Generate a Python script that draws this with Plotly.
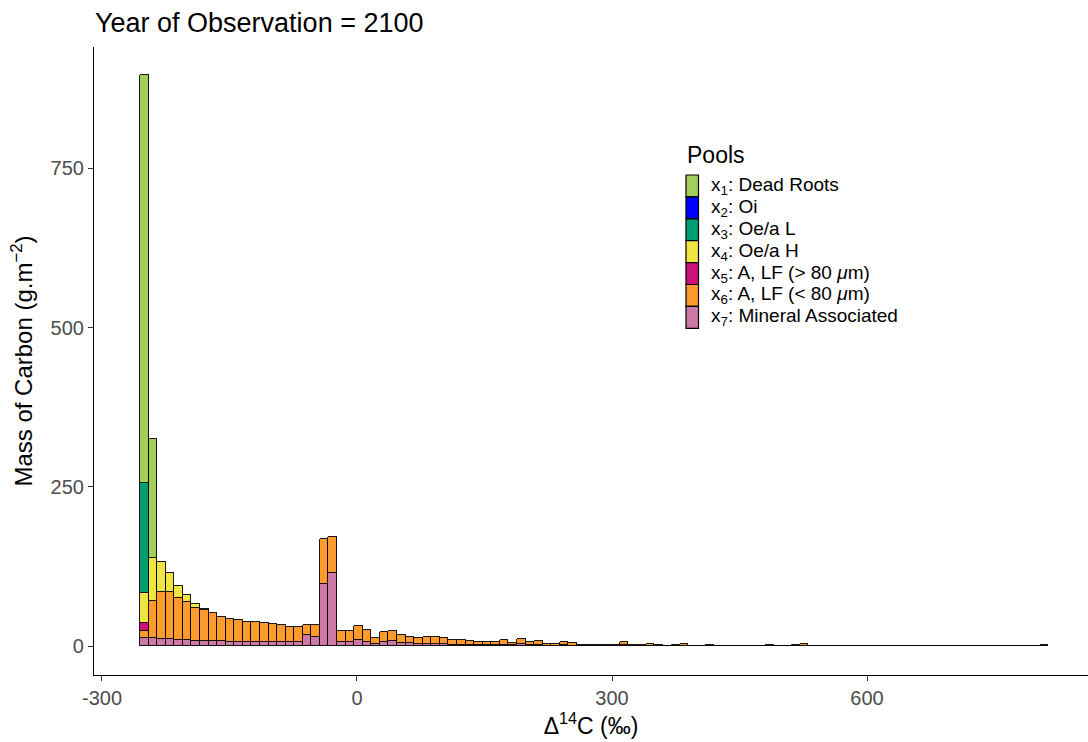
import plotly.graph_objects as go

# Bin centres (106 equal-width bins)
first_center = -250.25
bin_width = 10.08
n_bins = 106
centers = [round(first_center + bin_width * k, 2) for k in range(n_bins)]

pool_names = [
    "x<sub>1</sub>: Dead Roots",
    "x<sub>2</sub>: Oi",
    "x<sub>3</sub>: Oe/a L",
    "x<sub>4</sub>: Oe/a H",
    "x<sub>5</sub>: A, LF (&gt; 80 <i>μ</i>m)",
    "x<sub>6</sub>: A, LF (&lt; 80 <i>μ</i>m)",
    "x<sub>7</sub>: Mineral Associated",
]
pool_colors = ["#A3CE5A", "#0000FF", "#009E73", "#F0E442", "#CB1279", "#FD9A2E", "#CC79A7"]

# Mass of carbon (g m-2) per bin for each pool
x1_dead_roots = [640, 187]
x2_oi = [0]
x3_oea_l = [172]
x4_oea_h = [46, 67.4, 47, 29, 18, 11, 6, 2]
x5_a_lf_gt80 = [12.5]
x6_a_lf_lt80 = [
    12.5, 57.5, 74, 74, 66, 60, 52, 48, 44, 38.5,
    35.5, 34, 31.4, 31.4, 29, 27.5, 26.5, 24, 24, 15.5,
    18.5, 70, 55.5, 18, 17, 22.5, 18, 9.5, 15.5, 16.5,
    12, 10, 8.5, 10.1, 10.1, 8.5, 7.5, 7.5, 6.5, 4.3,
    4.3, 5.3, 6.9, 3.9, 8.4, 5.3, 5.8, 2.9, 2.5, 5.3,
    3.3, 1.8, 1.4, 1.4, 1.7, 1.4, 5.3, 1.7, 2.1, 2.8,
    1.4, 1.0, 1.4, 3.0, 1.0, 0.8, 1.3, 0.7, 0.6, 0.7,
    1.0, 0.7, 0.8, 1.3, 0.6, 1.0, 1.4, 3.0, 1.0, 0.7,
    0.4, 0.3, 0.7, 0.8, 0.4, 0.7, 0.3, 0.7, 0.8, 0.6,
    0.7, 0.4, 0.8, 0.6, 0.3, 0.5, 0.3, 0.6, 0.7, 0.4,
    0.3, 0.3, 0.6, 0.8, 0.6, 1.4,
]
x7_mineral = [
    12.5, 14, 12, 12, 10, 10, 9, 9, 8, 8,
    7.5, 7.3, 7.3, 7.3, 7, 7, 7, 7, 7, 18,
    15, 98, 115.5, 7, 6.5, 9.5, 7.5, 4, 7, 8,
    6, 5, 4, 4.5, 4.5, 4, 3, 3, 2.5, 2,
    2, 2, 2.5, 1.8, 3.6, 2, 2, 1.3, 1.1, 2,
    1.4, 0.8, 0.6, 0.6, 0.8, 0.6, 2, 0.8, 0.9, 1.2,
    0.6, 0.5, 0.6, 1.2, 0.5, 0.4, 0.5, 0.3, 0.2, 0.3,
    0.5, 0.3, 0.4, 0.5, 0.2, 0.5, 0.6, 1.2, 0.5, 0.3,
    0.2, 0.2, 0.3, 0.4, 0.2, 0.3, 0.2, 0.3, 0.4, 0.2,
    0.3, 0.2, 0.4, 0.2, 0.2, 0.2, 0.2, 0.2, 0.3, 0.2,
    0.2, 0.2, 0.2, 0.4, 0.2, 0.6,
]

pools = [x1_dead_roots, x2_oi, x3_oea_l, x4_oea_h, x5_a_lf_gt80, x6_a_lf_lt80, x7_mineral]

W, H = 1088, 742
ML, MR, MT, MB = 94, 0, 47, 67
PW, PH = W - ML - MR, H - MT - MB


def px_x(px):
    return (px - ML) / PW


def px_y(py):
    return (H - MB - py) / PH


fig = go.Figure()
# stack from bottom (x7) to top (x1)
for i in reversed(range(7)):
    vals = pools[i]
    fig.add_trace(go.Bar(
        x=centers[:len(vals)],
        y=vals,
        width=bin_width,
        name=pool_names[i],
        showlegend=False,
        marker=dict(color=pool_colors[i], line=dict(color="black", width=0.9)),
    ))

# ggplot-style legend: tall keys stacked with no gap
shapes = []
annotations = []
key_left, key_right, key_top, key_h = 686, 698.5, 175, 21.9
for i, (name, col) in enumerate(zip(pool_names, pool_colors)):
    y0 = key_top + i * key_h
    shapes.append(dict(
        type="rect", xref="paper", yref="paper",
        x0=px_x(key_left), x1=px_x(key_right),
        y0=px_y(y0 + key_h), y1=px_y(y0),
        fillcolor=col, line=dict(color="black", width=1.2),
    ))
    annotations.append(dict(
        text=name, xref="paper", yref="paper",
        x=px_x(709), y=px_y(y0 + key_h / 2),
        xanchor="left", yanchor="middle", showarrow=False,
        font=dict(size=19, color="black"),
    ))
annotations.append(dict(
    text="Pools", xref="paper", yref="paper",
    x=px_x(685), y=px_y(155), xanchor="left", yanchor="middle",
    showarrow=False, font=dict(size=23, color="black"),
))

font_family = "Liberation Sans, Arial, sans-serif"
fig.update_layout(
    barmode="stack",
    bargap=0,
    width=W,
    height=H,
    plot_bgcolor="white",
    paper_bgcolor="white",
    margin=dict(l=ML, r=MR, t=MT, b=MB),
    font=dict(family=font_family, color="black"),
    title=dict(
        text="Year of Observation = 2100",
        x=95 / W, xanchor="left", xref="container",
        y=1 - 23 / H, yanchor="middle", yref="container",
        font=dict(size=27, color="black"),
    ),
    showlegend=False,
    shapes=shapes,
    annotations=annotations,
)
fig.update_xaxes(
    range=[-309.4, 860.0],
    tickvals=[-300, 0, 300, 600],
    ticktext=["-300", "0", "300", "600"],
    showline=True, linecolor="black", linewidth=1.2,
    ticks="outside", ticklen=5, tickcolor="#333333", tickwidth=1.1,
    tickfont=dict(size=20, color="#4D4D4D"),
    showgrid=False, zeroline=False,
    title=dict(text="Δ<sup>14</sup>C (‰)", font=dict(size=23), standoff=6),
)
fig.update_yaxes(
    range=[-44.75, 939.75],
    tickvals=[0, 250, 500, 750],
    showline=True, linecolor="black", linewidth=1.2,
    ticks="outside", ticklen=5, tickcolor="#333333", tickwidth=1.1,
    tickfont=dict(size=20, color="#4D4D4D"),
    showgrid=False, zeroline=False,
    title=dict(text="Mass of Carbon (g.m<sup>−2</sup>)", font=dict(size=24), standoff=11),
)

fig.write_html("out.html")
